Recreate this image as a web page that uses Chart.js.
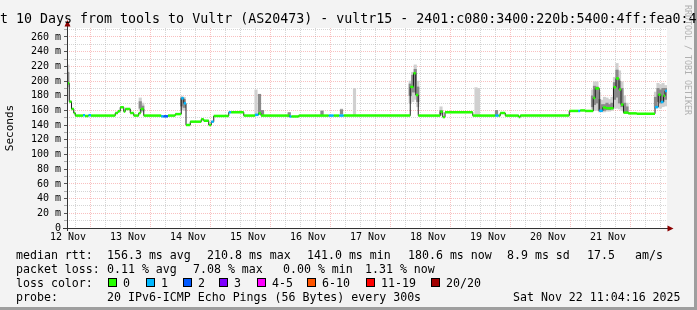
<!DOCTYPE html>
<html>
<head>
<meta charset="utf-8">
<style>
html, body { margin: 0; padding: 0; background: #f3f3f3; }
</style>
<script src="https://cdn.jsdelivr.net/npm/chart.js@4.4.1/dist/chart.umd.min.js"></script>
</head>
<body>
<canvas id="smokeChart" width="697" height="310"></canvas>
<script>
var mono = "'DejaVu Sans Mono', monospace";

// x axis is hours since the left edge of the graph (10 days = 240 h)
var dayLabels = ["12 Nov", "13 Nov", "14 Nov", "15 Nov", "16 Nov", "17 Nov", "18 Nov", "19 Nov", "20 Nov", "21 Nov"];
var dayLabelHours = [0.4, 24.4, 48.4, 72.4, 96.4, 120.4, 144.4, 168.4, 192.4, 216.4];
var midnightHours = [12.4, 36.4, 60.4, 84.4, 108.4, 132.4, 156.4, 180.4, 204.4, 228.4];

var lossColors = ["#26ff00", "#00b8ff", "#0059ff", "#7e00ff", "#ff00ff", "#ff5500", "#ff0000", "#a10000"];
var lossLabels = ["0", "1", "2", "3", "4-5", "6-10", "11-19", "20/20"];

// median rtt, a step per change: start hour, value (ms), loss bin
var medHours = [0, 0.9, 1.8, 2.7, 3.3, 6.4, 7.2, 8.6, 9.6, 19.3, 20.4, 21.3, 22.7, 23.3, 25.3, 26.7, 28.7, 29.5, 30.7,
    37.7, 38.6, 40.4, 43.3, 45.7, 46.7, 47.6, 49.3, 53.7, 54.7, 56.7, 57.7, 58.7, 64.7, 65.7, 70.7, 75.2, 76.6, 77.6,
    89.0, 89.8, 92.7, 104.7, 106.7, 108.9, 110.7, 137.3, 138.6, 139.5, 140.5, 149.3, 150.3, 151.2, 162.3,
    171.3, 172.7, 173.3, 175.3, 180.7, 181.3, 200.9, 204.5, 205.3, 207.3, 210.5, 211.3, 212.9, 214.3, 215.6,
    218.6, 219.6, 220.8, 221.6, 222.6, 224.5, 227.9, 235.2, 236.5, 237.5, 238.6, 239.2];
var medRtt = [197, 172, 162, 156.5, 153, 153.5, 152.5, 153.5, 153, 156.5, 159, 164.3, 158.5, 162, 156.5, 153, 156.5, 162, 153,
    152, 152, 153, 155, 176.5, 169.7, 140.2, 144.7, 148, 146, 140.2, 144.7, 152.5, 157.5, 157.5, 153, 154, 156, 153,
    151.8, 151.8, 153, 153, 153, 153, 153, 192, 210.6, 181, 153, 158.3, 151, 157.5, 153,
    153, 153, 156.5, 153, 151, 153, 159.3, 159.3, 160, 159.3, 177, 190, 159.5, 164, 163,
    191.6, 203.5, 188.5, 168, 157, 156, 155.5, 164.5, 181.5, 171.5, 180, 186.5];
var medLoss = [0, 0, 0, 0, 0, 1, 0, 1, 0, 0, 0, 0, 0, 0, 0, 0, 0, 0, 0,
    1, 2, 0, 0, 1, 1, 0, 0, 0, 0, 0, 1, 0, 1, 0, 0, 1, 0, 0,
    1, 0, 0, 1, 0, 1, 0, 0, 0, 0, 0, 0, 0, 0, 0,
    1, 0, 0, 0, 0, 0, 0, 1, 0, 0, 0, 0, 1, 0, 0,
    0, 0, 0, 0, 0, 0, 0, 1, 0, 1, 0, 1];

// smoke (spread of the 20 pings): hour, outer low/high, inner low/high
var smokeHours = [0.3, 29.3, 30.3, 45.9, 46.9, 75.6, 77.0, 78.2, 88.9, 102.0, 109.8, 115.0,
    137.3, 138.3, 139.3, 140.3, 149.6, 163.6, 164.6, 171.8,
    210.2, 211.0, 212.0, 213.0, 214.0, 215.0, 216.0, 217.0, 218.0, 219.0, 220.0, 221.0, 222.0, 223.0, 224.0,
    235.4, 236.4, 237.4, 238.4, 239.4];
var smokeLow = [192, 160, 158, 161, 160, 153, 154, 153, 151, 153, 153, 153,
    170, 172, 175, 165, 153, 153, 153, 153,
    162, 160, 160, 158, 158, 158, 159, 159, 160, 163, 163, 162, 160, 157, 157,
    163, 165, 163, 165, 166];
var smokeHigh = [222, 177, 170, 179.5, 178, 188, 182, 160, 157, 160, 162, 190,
    200, 212, 222, 200, 165, 191, 190, 160,
    188, 199, 199, 185, 174, 178, 177, 175, 178, 205, 224, 214, 199, 180, 170,
    185, 197, 195, 197, 194];
var coreLow = [196, 163, 160, 166, 164, null, 155, 154, 152, 154, 155, null,
    180, 185, 185, 172, 155, null, null, 154,
    165, 168, 170, 160, 160, 160, 161, 161, 162, 175, 178, 170, 165, 158, 158,
    165, 172, 170, 172, 175];
var coreHigh = [212, 172, 166, 177, 175, null, 182, 160, 157, 159, 161, null,
    196, 208, 216, 192, 160, null, null, 160,
    180, 193, 192, 175, 168, 168, 170, 168, 170, 198, 215, 200, 190, 170, 165,
    178, 190, 188, 190, 190];

var legendRows = [
    [[16, "median rtt:"], [107, "156.3 ms avg"], [207, "210.8 ms max"], [307, "141.0 ms min"], [408, "180.6 ms now"], [507, "8.9 ms sd"], [587, "17.5"], [635, "am/s"]],
    [[16, "packet loss:"], [107, "0.11 % avg"], [193, "7.08 % max"], [283, "0.00 % min"], [365, "1.31 % now"]],
    [[16, "loss color:"]],
    [[16, "probe:"], [107, "20 IPv6-ICMP Echo Pings (56 Bytes) every 300s"], [513, "Sat Nov 22 11:04:16 2025"]]
];
var lossBoxX = [108, 146, 183, 219, 257, 307, 366, 431];
var titleText = "t 10 Days from tools to Vultr (AS20473) - vultr15 - 2401:c080:3400:220b:5400:4ff:fea0:4";

var gridMajor = "rgba(240,90,90,0.38)";
var gridMinor = "rgba(150,150,150,0.4)";
var axisColor = "#333333";
var arrowColor = "#8b0000";

var gridHours = [];
for (var g = 0; g < 40; g++) gridHours.push(Math.round((0.4 + g * 6) * 10) / 10);
var gridRtt = [];
for (var r = 0; r <= 270; r += 10) gridRtt.push(r);

// built from the arrays above
var lastH = 240;
var lossLine = [];
var medLine = [];
medHours.forEach(function (h, i) {
    var next = i < medHours.length - 1 ? medHours[i + 1] : lastH;
    lossLine.push({ x: h, y: medRtt[i] }, { x: next, y: medRtt[i] });
    medLine.push({ x: h, y: medRtt[i] });
});
medLine.push({ x: lastH, y: medRtt[medRtt.length - 1] });

var outerBars = smokeHours.map(function (h, i) { return { x: h, y: [smokeLow[i], smokeHigh[i]] }; });
var innerBars = [];
smokeHours.forEach(function (h, i) {
    if (coreLow[i] != null) innerBars.push({ x: h, y: [coreLow[i], coreHigh[i]] });
});

function isMidnight(v) {
    return midnightHours.some(function (m) { return Math.abs(m - v) < 0.01; });
}

var rrdFrame = {
    id: "rrdFrame",
    beforeDraw: function (chart) {
        var c = chart.ctx, a = chart.chartArea;
        c.save();
        c.fillStyle = "#f3f3f3";
        c.fillRect(0, 0, chart.width, chart.height);
        c.fillStyle = "#9e9e9e";
        c.fillRect(chart.width - 3, 0, 3, chart.height);
        c.fillRect(0, chart.height - 3, chart.width, 3);
        c.fillStyle = "#ffffff";
        c.fillRect(a.left, a.top, a.right - a.left, a.bottom - a.top);
        c.restore();
    },
    afterDraw: function (chart) {
        var c = chart.ctx, a = chart.chartArea;
        c.save();
        // axes with arrows
        c.strokeStyle = axisColor;
        c.lineWidth = 1;
        c.beginPath();
        c.moveTo(a.left - 4, a.bottom + 0.5);
        c.lineTo(a.right + 2, a.bottom + 0.5);
        c.moveTo(a.left + 0.5, a.bottom + 3);
        c.lineTo(a.left + 0.5, a.top - 3);
        c.stroke();
        c.fillStyle = arrowColor;
        c.beginPath();
        c.moveTo(a.left + 0.5, a.top - 8);
        c.lineTo(a.left - 2.5, a.top - 1.5);
        c.lineTo(a.left + 3.5, a.top - 1.5);
        c.closePath();
        c.fill();
        c.beginPath();
        c.moveTo(a.right + 6.5, a.bottom + 0.5);
        c.lineTo(a.right + 0.5, a.bottom - 2.5);
        c.lineTo(a.right + 0.5, a.bottom + 3.5);
        c.closePath();
        c.fill();

        // title
        c.fillStyle = "#000";
        c.font = "13.3px " + mono;
        c.textBaseline = "alphabetic";
        c.textAlign = "left";
        c.fillText(titleText, 0, 23);

        // y title
        c.save();
        c.translate(10.5, (a.top + a.bottom) / 2);
        c.rotate(-Math.PI / 2);
        c.textAlign = "center";
        c.textBaseline = "middle";
        c.font = "11px " + mono;
        c.fillText("Seconds", 0, 0);
        c.restore();

        // watermark
        c.save();
        c.translate(684.5, 5);
        c.rotate(Math.PI / 2);
        c.fillStyle = "#b0b0b0";
        c.font = "8.3px " + mono;
        c.textBaseline = "middle";
        c.fillText("RRDTOOL / TOBI OETIKER", 0, -2.5);
        c.restore();

        // legend rows
        c.font = "11.6px " + mono;
        c.fillStyle = "#000";
        legendRows.forEach(function (row, k) {
            row.forEach(function (item) {
                c.fillText(item[1], item[0], 258.5 + k * 14);
            });
        });
        lossBoxX.forEach(function (x, i) {
            c.fillStyle = lossColors[i];
            c.fillRect(x, 278, 8, 8);
            c.strokeStyle = "#000";
            c.strokeRect(x + 0.5, 278.5, 8, 8);
            c.fillStyle = "#000";
            c.fillText(lossLabels[i], x + 15, 286.5);
        });
        c.restore();
    }
};

new Chart(document.getElementById("smokeChart").getContext("2d"), {
    type: "line",
    data: {
        datasets: [
            {
                type: "bar",
                data: outerBars,
                backgroundColor: "#d0d0d0",
                borderWidth: 0,
                barThickness: 2.5,
                grouped: false,
                order: 5
            },
            {
                type: "bar",
                data: innerBars,
                backgroundColor: "#8a8a8a",
                borderWidth: 0,
                barThickness: 2.5,
                grouped: false,
                order: 4
            },
            {
                data: medLine,
                borderColor: "#202020",
                borderWidth: 1,
                stepped: true,
                pointRadius: 0,
                fill: false,
                order: 2
            },
            {
                data: lossLine,
                borderWidth: 2.5,
                borderCapStyle: "butt",
                pointRadius: 0,
                fill: false,
                order: 1,
                segment: {
                    borderColor: function (ctx) {
                        if (ctx.p0DataIndex % 2 === 1) return "rgba(0,0,0,0)";
                        return lossColors[medLoss[ctx.p0DataIndex / 2]];
                    }
                }
            }
        ]
    },
    options: {
        responsive: false,
        devicePixelRatio: 1,
        animation: false,
        events: [],
        layout: { padding: { left: 0, right: 30, top: 28, bottom: 0 } },
        plugins: { legend: { display: false }, tooltip: { enabled: false }, title: { display: false } },
        scales: {
            x: {
                type: "linear",
                min: 0,
                max: 240,
                offset: false,
                afterBuildTicks: function (s) { s.ticks = gridHours.map(function (v) { return { value: v }; }); },
                afterFit: function (s) { s.height = 82; },
                grid: {
                    color: function (ctx) { return ctx.tick && isMidnight(ctx.tick.value) ? gridMajor : gridMinor; },
                    lineWidth: 1,
                    drawTicks: false
                },
                border: { display: false, dash: [1, 1] },
                ticks: {
                    autoSkip: false,
                    maxRotation: 0,
                    padding: 3,
                    color: "#000",
                    font: { family: mono, size: 10 },
                    callback: function (v) {
                        var i = dayLabelHours.indexOf(Math.round(v * 10) / 10);
                        return i < 0 ? "" : dayLabels[i];
                    }
                }
            },
            y: {
                type: "linear",
                min: 0,
                max: 272.2,
                afterBuildTicks: function (s) { s.ticks = gridRtt.map(function (v) { return { value: v }; }); },
                afterFit: function (s) { s.width = 67; },
                grid: {
                    color: function (ctx) { return ctx.tick && ctx.tick.value % 20 === 0 ? gridMajor : gridMinor; },
                    lineWidth: 1,
                    drawTicks: true,
                    tickLength: 3,
                    tickColor: function (ctx) { return ctx.tick && ctx.tick.value % 20 === 0 ? "#555" : "#aaa"; }
                },
                border: { display: false, dash: [1, 1] },
                ticks: {
                    autoSkip: false,
                    padding: 3,
                    color: "#000",
                    font: { family: mono, size: 10 },
                    callback: function (v) {
                        v = Math.round(v);
                        if (v % 20 !== 0) return "";
                        return v === 0 ? "0" : v + " m";
                    }
                }
            }
        }
    },
    plugins: [rrdFrame]
});
</script>
</body>
</html>
